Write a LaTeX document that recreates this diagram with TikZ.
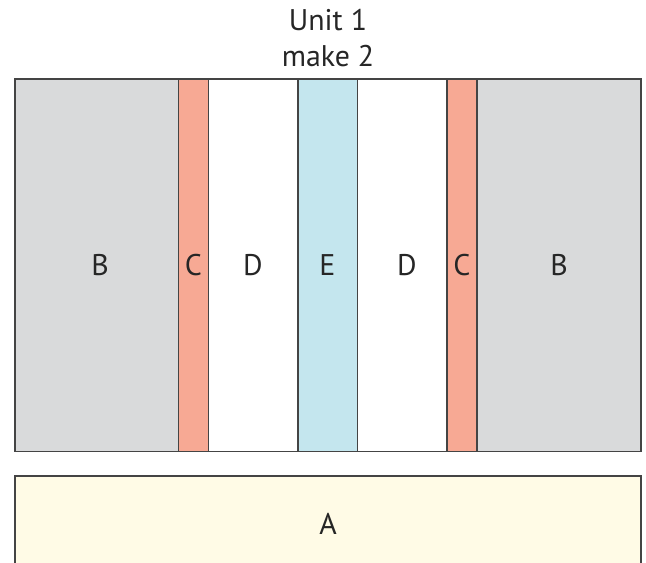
\documentclass[tikz,border=0pt]{standalone}
\usepackage{fontspec}
\setmainfont{PT Sans}
\usetikzlibrary{calc,positioning}
\definecolor{greyB}{HTML}{D9DADB}
\definecolor{salmonC}{HTML}{F7A994}
\definecolor{blueE}{HTML}{C4E6EE}
\definecolor{creamA}{HTML}{FFFBE6}
\definecolor{edge}{HTML}{444444}
\tikzset{
    strip/.style = {draw=edge, line width=0.9pt},
    lbl/.style = {font=\fontsize{25.5}{31}\selectfont, text=black!85, inner sep=0pt}
}

\begin{document}
\begin{tikzpicture}[x=0.03cm, y=-0.03cm]
    \useasboundingbox (0,0) rectangle (646,563);
    % strips of the unit
    \draw [strip, fill=greyB]  (15,79)    rectangle (178.5,451.5);
    \draw [strip, fill=salmonC](178.5,79) rectangle (208.5,451.5);
    \draw [strip, fill=white]  (208.5,79) rectangle (298,451.5);
    \draw [strip, fill=blueE]  (298,79)   rectangle (357.5,451.5);
    \draw [strip, fill=white]  (357.5,79) rectangle (447,451.5);
    \draw [strip, fill=salmonC](447,79)   rectangle (477,451.5);
    \draw [strip, fill=greyB]  (477,79)   rectangle (641,451.5);
    % base
    \begin{scope}
        \clip (0,0) rectangle (646,563);
        \draw [strip, fill=creamA] (15,476) rectangle (641,580);
    \end{scope}
    \node [lbl] (b1) at (100,265) {B};
    \node [lbl] (c1) at (193.5,265) {C};
    \node [lbl] (d1) at (253,265) {D};
    \node [lbl] (e)  at (327.5,265) {E};
    \node [lbl] (d2) at (407,265) {D};
    \node [lbl] (c2) at (462,265) {C};
    \node [lbl] (b2) at (559,265) {B};
    \node [lbl] (a)  at (328,524) {A};
    \node [lbl, align=center] (title) at (328,38) {Unit 1\\ make 2};
\end{tikzpicture}
\end{document}
